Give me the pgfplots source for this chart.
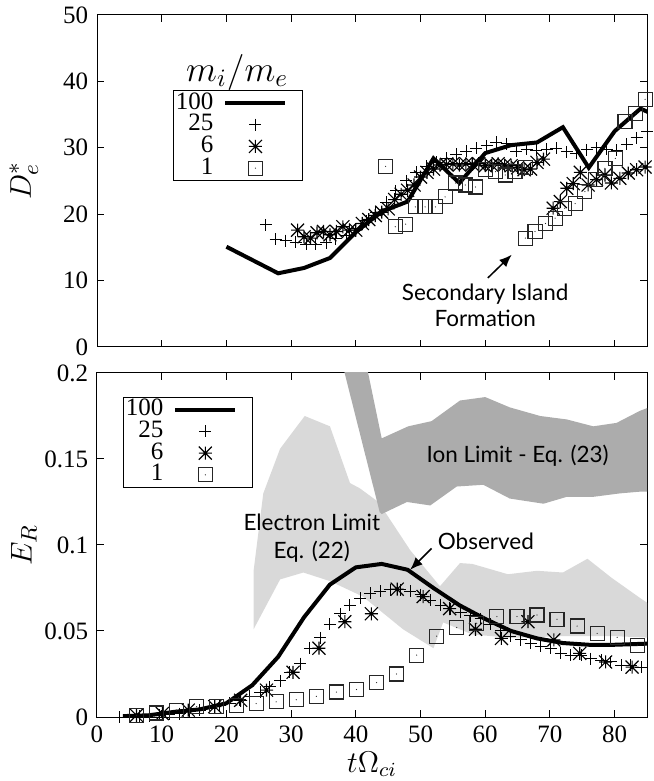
\documentclass[border=0pt]{standalone}
\usepackage{fontspec}
\setmainfont{Liberation Serif}
\newfontfamily\annot{Lato}
\usepackage{pgfplots}
\pgfplotsset{compat=1.18}
\usetikzlibrary{arrows.meta}

% gnuplot-like marks
\pgfdeclareplotmark{gstar}{%
  \pgfpathmoveto{\pgfqpoint{-\pgfplotmarksize}{0pt}}\pgfpathlineto{\pgfqpoint{\pgfplotmarksize}{0pt}}%
  \pgfpathmoveto{\pgfqpoint{0pt}{-\pgfplotmarksize}}\pgfpathlineto{\pgfqpoint{0pt}{\pgfplotmarksize}}%
  \pgfpathmoveto{\pgfqpoint{-\pgfplotmarksize}{-\pgfplotmarksize}}\pgfpathlineto{\pgfqpoint{\pgfplotmarksize}{\pgfplotmarksize}}%
  \pgfpathmoveto{\pgfqpoint{-\pgfplotmarksize}{\pgfplotmarksize}}\pgfpathlineto{\pgfqpoint{\pgfplotmarksize}{-\pgfplotmarksize}}%
  \pgfusepathqstroke
  \pgfpathcircle{\pgfpointorigin}{0.4pt}\pgfusepathqfill}
\pgfdeclareplotmark{gsq}{%
  \pgfpathrectangle{\pgfqpoint{-\pgfplotmarksize}{-\pgfplotmarksize}}{\pgfqpoint{2\pgfplotmarksize}{2\pgfplotmarksize}}%
  \pgfusepathqstroke
  \pgfpathcircle{\pgfpointorigin}{0.25pt}\pgfusepathqfill}

\pgfplotsset{
  panel/.style={
    scale only axis, width=220pt, xmin=0, xmax=85,
    tick align=inside, major tick length=2.8pt,
    axis line style={line width=0.4pt},
    every tick/.style={black, line width=0.4pt},
    xtick={0,10,...,80},
    tick label style={font=\fontsize{10}{12}\selectfont},
    /pgf/number format/assume math mode=true,
    legend cell align=right, legend plot pos=right,
    legend style={draw=black, line width=0.4pt, inner xsep=1pt, inner ysep=0.6pt,
      font=\fontsize{10}{10}\selectfont,
      nodes={inner sep=0pt, text height=6.8pt, text depth=1.9pt},
      column sep=4pt, anchor=north west},
    ylabel style={at={(axis description cs:-0.133,0.5)}, anchor=center,
      font=\fontsize{13}{13}\selectfont},
  },
  line100/.style={black, line width=1.6pt,
    legend image code/.code={\draw[##1] (0pt,0pt) -- (24pt,0pt); \path (29pt,0pt);}},
  mk25/.style={only marks, mark=+, mark size=2.4pt, line width=0.4pt, black,
    legend image code/.code={\draw[##1] plot coordinates {(12pt,0pt)}; \path (0pt,0pt) (29pt,0pt);}},
  mk6/.style={only marks, mark=gstar, mark size=2.6pt, line width=0.45pt, black,
    legend image code/.code={\draw[##1] plot coordinates {(12pt,0pt)}; \path (0pt,0pt) (29pt,0pt);}},
  mk1/.style={only marks, mark=gsq, mark size=2.8pt, line width=0.45pt, black!85,
    legend image code/.code={\draw[##1] plot coordinates {(12pt,0pt)}; \path (0pt,0pt) (29pt,0pt);}},
}

\begin{document}
\begin{tikzpicture}
\useasboundingbox (-38.8pt,-25.6pt) rectangle (222.8pt,286.8pt);

% ---------------- top panel ----------------
\begin{axis}[panel, at={(0pt,148pt)}, anchor=south west,
    height=132.8pt, ymin=0, ymax=50, ytick={0,10,...,50},
    xticklabels={},
    ylabel={$D_e^*$},
    legend style={at={(0.138,0.774)}},
]
\addplot[line100] coordinates {
 (20,15.1) (28,11.1) (32,11.9) (36,13.4) (40,17.3) (44,20.4) (48,21.9)
 (52,28.4) (56,24.7) (60,29.2) (64,30.4) (68,30.8) (72,33.1) (76,27.0)
 (80,32.5) (84,35.9) (88,34.1)};
\addlegendentry{100}
\addplot[mk25] coordinates {
 (26.1,18.4) (27.6,16.2) (29.2,16.0) (30.7,15.8) (32.3,15.5) (33.8,15.5)
 (35.4,15.7) (36.9,16.3) (38.5,16.8) (40.0,17.8) (41.6,19.0) (43.1,20.3)
 (44.7,21.8) (46.2,23.5) (47.8,25.0) (49.3,26.3) (50.9,27.2) (52.4,27.8)
 (54.0,28.4) (55.5,29.0) (57.1,29.5) (58.6,29.9) (60.2,30.3) (61.7,30.8)
 (63.3,30.6) (64.8,29.5) (66.4,29.8) (67.9,29.6) (69.5,29.8) (71.0,29.9)
 (72.6,29.4) (74.1,29.2) (75.7,29.7) (77.2,30.0) (78.8,29.8) (80.3,29.6)
 (81.9,30.5) (83.4,31.5) (85.0,32.5)};
\addlegendentry{25}
\addplot[mk6] coordinates {
 (31,17.6) (32,16.6) (33,16.4) (34,17.2) (35,17.4) (36,16.9) (37,17.4)
 (38,18.1) (39,17.6) (40,17.6) (41,18.6) (42,19.2) (43,19.8) (44,20.3)
 (45,20.8) (46,22.2) (47,23.0) (48,23.6) (49,24.4) (50,25.6) (51,26.3)
 (52,26.8) (53,27.4) (54,27.5) (55,27.6) (56,27.4) (57,27.6) (58,27.5)
 (59,27.6) (60,27.3) (61,27.4) (62,27.6) (63,27.4) (64,27.3) (65,27.0)
 (66,26.7) (67,26.8) (68,27.8) (69,28.3)
 (70.5,20.9) (71.6,21.9) (72.6,23.9) (73.6,24.6) (74.7,26.3) (75.9,24.4)
 (77.2,25.2) (78.5,25.9) (79.5,24.7) (80.8,25.4) (82.1,26.2) (83.4,26.7)
 (84.7,27.1)};
\addlegendentry{6}
\addplot[mk1] coordinates {
 (44.6,27.2) (46.1,18.1) (47.7,18.5) (49.2,21.1) (50.7,21.1) (52.3,21.1)
 (53.8,22.6) (55.4,24.7) (56.9,24.4) (58.5,24.1) (60.0,26.7) (61.6,26.4)
 (63.1,25.9) (64.6,26.4) (66.2,27.0)
 (66.2,16.4) (67.7,17.4) (69.3,18.6) (70.8,19.4) (72.3,20.9) (73.9,21.6)
 (75.4,23.4) (77.0,25.2) (78.5,26.9) (80.1,28.4) (81.6,33.9) (83.2,35.2)
 (84.7,37.3)};
\addlegendentry{1}
\node[font=\fontsize{14.5}{14.5}\selectfont] at (rel axis cs:0.255,0.828) {$m_i/m_e$};
\node[font=\annot\fontsize{9}{10.4}\selectfont, align=center] at (axis cs:60,6.3)
  {Secondary Island\\Formation};
\draw[-{Latex[length=5pt,width=4pt]}, line width=0.6pt] (axis cs:60.4,10.4) -- (axis cs:64.1,13.9);
\end{axis}

% ---------------- bottom panel ----------------
\begin{axis}[panel, at={(0pt,0pt)}, anchor=south west,
    height=137.6pt, ymin=0, ymax=0.2, ytick={0,0.05,0.1,0.15,0.2},
    scaled y ticks=false,
    yticklabel style={/pgf/number format/fixed, /pgf/number format/precision=2},
    ylabel={$E_R$},
    xlabel={$t\Omega_{ci}$},
    xlabel style={at={(axis description cs:0.5,-0.138)}, anchor=center,
      font=\fontsize{12}{12}\selectfont},
    legend style={at={(0.047,0.931)}},
]
% electron limit band
\addplot[fill=gray!30, draw=none, forget plot] coordinates {
 (24.2,0.051) (24.2,0.085) (25.7,0.130) (28.3,0.156) (32.1,0.175) (36.0,0.169)
 (39.1,0.136) (40.6,0.133) (43.5,0.125) (48.4,0.097) (53.0,0.076) (56.1,0.0895)
 (58.0,0.089) (63.5,0.083) (68.0,0.085) (72.0,0.084) (75.8,0.092) (79.5,0.081)
 (84.0,0.069) (86.0,0.064)
 (86.0,0.046) (80.0,0.047) (72.0,0.047) (64.0,0.046) (58.0,0.048) (53.5,0.055)
 (52.0,0.040) (47.3,0.051) (41.1,0.070) (36.0,0.079) (31.9,0.084) (28.3,0.080)} -- cycle;
% ion limit band
\addplot[fill=gray!65, draw=none, forget plot] coordinates {
 (37.6,0.21) (41.35,0.21) (44.0,0.162) (48.1,0.169) (51.7,0.172) (56.1,0.184)
 (60.0,0.186) (63.8,0.180) (68.5,0.175) (72.6,0.173) (76.7,0.169) (80.3,0.171)
 (83.9,0.178) (86.0,0.181)
 (86.0,0.131) (83.9,0.131) (80.8,0.130) (76.7,0.128) (72.6,0.128) (69.0,0.124)
 (63.8,0.127) (59.7,0.135) (55.6,0.134) (51.5,0.123) (47.9,0.125) (44.0,0.118)
 (43.7,0.119)} -- cycle;
\addplot[line100] coordinates {
 (4,0.0005) (8,0.001) (12,0.003) (16,0.0045) (20,0.008) (24,0.0185) (28,0.035)
 (32,0.058) (36,0.077) (40,0.087) (44,0.089) (48,0.0856) (52,0.075) (56,0.065)
 (60,0.057) (64,0.050) (68,0.0457) (72,0.043) (76,0.042) (80,0.042) (84,0.0425)
 (88,0.043)};
\addlegendentry{100}
\addplot[mk25] coordinates {
 (3.5,0.0) (5.0,0.0003) (6.6,0.0005) (8.1,0.0008) (9.7,0.001) (11.2,0.0015)
 (12.8,0.002) (14.3,0.003) (15.9,0.004) (17.4,0.005) (19.0,0.0065) (20.5,0.008)
 (22.1,0.010) (23.6,0.012) (25.2,0.0145) (26.7,0.0175) (28.3,0.021) (29.8,0.026)
 (31.4,0.031) (32.9,0.040) (34.5,0.046) (36.0,0.054) (37.6,0.060) (39.1,0.065)
 (40.7,0.069) (42.2,0.072) (43.8,0.073) (45.3,0.074) (46.9,0.074) (48.4,0.073)
 (50.0,0.071) (51.5,0.068) (53.1,0.065) (54.6,0.063) (56.2,0.061) (57.7,0.059)
 (59.3,0.057) (60.8,0.054) (62.4,0.050) (63.9,0.047) (65.5,0.045) (67.0,0.043)
 (68.6,0.041) (70.1,0.040) (71.7,0.037) (73.2,0.036) (74.8,0.036) (76.3,0.034)
 (77.9,0.033) (79.4,0.032) (81.0,0.030) (82.5,0.030) (84.1,0.029)};
\addlegendentry{25}
\addplot[mk6] coordinates {
 (6.1,0.001) (10.1,0.002) (14.1,0.004) (18.2,0.006) (22.2,0.0097) (26.2,0.0156)
 (30.3,0.026) (34.3,0.040) (38.3,0.0554) (42.4,0.060) (46.4,0.0743) (50.4,0.070)
 (54.5,0.063) (58.5,0.051) (62.5,0.0457) (66.6,0.0554) (70.6,0.0448) (74.6,0.037)
 (78.6,0.032) (82.7,0.029)};
\addlegendentry{6}
\addplot[mk1] coordinates {
 (6.1,0.001) (9.2,0.0023) (12.3,0.004) (15.4,0.006) (18.5,0.0062) (21.6,0.0068)
 (24.6,0.0078) (27.7,0.0088) (30.8,0.010) (33.9,0.012) (37.0,0.0145) (40.1,0.016)
 (43.2,0.020) (46.3,0.025) (49.4,0.036) (52.5,0.047) (55.6,0.052) (58.7,0.0545)
 (61.8,0.0584) (64.9,0.0584) (68.0,0.0593) (71.1,0.0568) (74.2,0.0529)
 (77.3,0.0486) (80.4,0.0463) (83.5,0.0418)};
\addlegendentry{1}
\node[font=\annot\fontsize{9}{10.4}\selectfont] at (axis cs:65,0.1517) {Ion Limit - Eq. (23)};
\node[font=\annot\fontsize{9}{11.2}\selectfont, align=center] at (axis cs:33.2,0.104)
  {Electron Limit\\Eq. (22)};
\node[font=\annot\fontsize{9}{10.4}\selectfont] at (axis cs:60.1,0.102) {Observed};
\draw[-{Latex[length=5pt,width=4pt]}, line width=0.6pt] (axis cs:51.7,0.098) -- (axis cs:48.4,0.0856);
\end{axis}
\end{tikzpicture}
\end{document}
